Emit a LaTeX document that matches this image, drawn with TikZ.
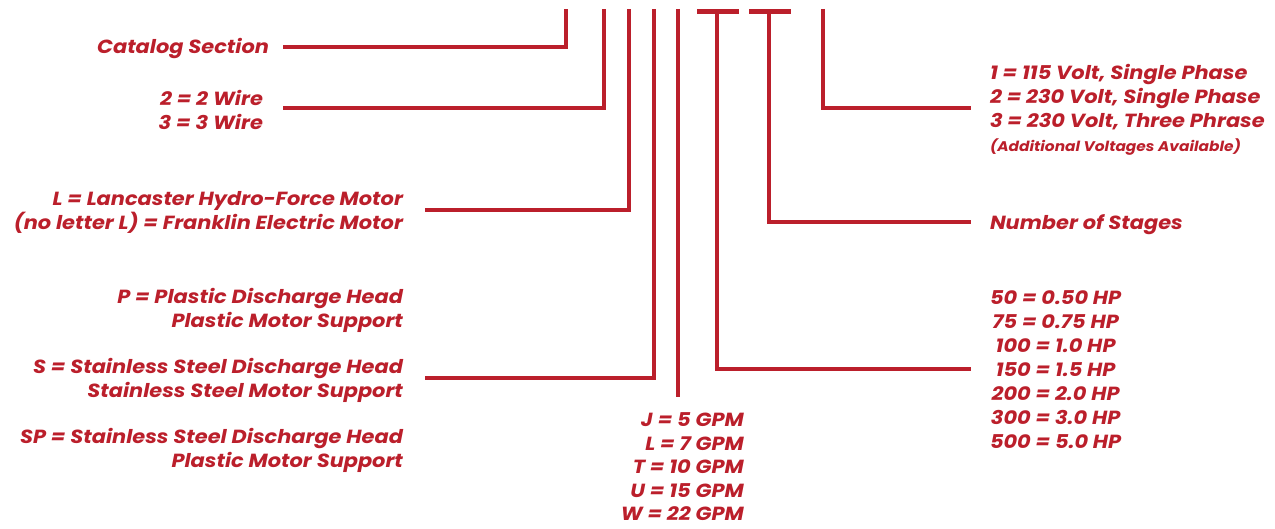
\documentclass[tikz,border=0pt]{standalone}
\usepackage{fontspec}
\setmainfont{Poppins}[FakeStretch=1.1]
\usetikzlibrary{positioning}
\definecolor{CodeRed}{RGB}{187,31,43}
\tikzset{
  code/.style={line width=4.6pt,draw=CodeRed},
  lbl/.style={text=CodeRed,inner sep=0pt,
    font=\fontsize{19}{24}\selectfont\bfseries\itshape},
  leftlbl/.style={lbl,align=right,anchor=east},
  rightlbl/.style={lbl,align=left,anchor=west,outer xsep=19pt}
}

\begin{document}
\begin{tikzpicture}[x=1pt,y=-1pt]
  \useasboundingbox (0,0) rectangle (1275,529);
  % tops of the code positions
  \coordinate (c1) at (566,9);
  \coordinate (c2) at (604,9);
  \coordinate (c3) at (629,9);
  \coordinate (c4) at (654,9);
  \coordinate (c5) at (678,9);
  \coordinate (t1l) at (697,11.3);
  \coordinate (t1) at (717,11.3);
  \coordinate (t1r) at (739,11.3);
  \coordinate (t2l) at (749,11.3);
  \coordinate (t2) at (769,11.3);
  \coordinate (t2r) at (791,11.3);
  \coordinate (c8) at (823,9);

  % left side labels
  \node[leftlbl,outer xsep=14pt] (cat) at (283,49) {Catalog Section};
  \node[leftlbl,outer xsep=20pt] (wire) at (283,110) {2 = 2 Wire\\3 = 3 Wire};
  \node[leftlbl,outer xsep=22pt] (motor) at (425,212)
    {L = Lancaster Hydro-Force Motor\\(no letter L) = Franklin Electric Motor};
  \node[leftlbl,outer xsep=22pt] (head) at (425,380)
    {P = Plastic Discharge Head\\Plastic Motor Support\\[22pt]
     S = Stainless Steel Discharge Head\\Stainless Steel Motor Support\\[22pt]
     SP = Stainless Steel Discharge Head\\Plastic Motor Support};
  \node[lbl,align=right,anchor=north east,outer ysep=16pt,
    font=\fontsize{19}{23.5}\selectfont\bfseries\itshape] (gpm) at (744,397)
    {J = 5 GPM\\L = 7 GPM\\T = 10 GPM\\U = 15 GPM\\W = 22 GPM};

  % right side labels
  \node[rightlbl] (volt) at (971,110)
    {1 = 115 Volt, Single Phase\\2 = 230 Volt, Single Phase\\3 = 230 Volt, Three Phrase\\
     {\fontsize{14}{24}\selectfont(Additional Voltages Available)}};
  \node[rightlbl] (stages) at (971,225) {Number of Stages};
  \node[rightlbl,align=center] (hp) at (971,370)
    {50 = 0.50 HP\\75 = 0.75 HP\\100 = 1.0 HP\\150 = 1.5 HP\\200 = 2.0 HP\\300 = 3.0 HP\\500 = 5.0 HP};

  % connectors
  \draw[code] ([yshift=2pt]cat.east) -| (c1);
  \draw[code] ([yshift=2pt]wire.east) -| (c2);
  \draw[code] ([yshift=2pt]motor.east) -| (c3);
  \draw[code] ([yshift=2pt]head.east) -| (c4);
  \draw[code] (c5) -- (c5 |- gpm.north);
  \draw[code] (t1l) -- (t1r);
  \draw[code] (t1) |- ([yshift=1pt]hp.west);
  \draw[code] (t2l) -- (t2r);
  \draw[code] (t2) |- ([yshift=3pt]stages.west);
  \draw[code] (c8) |- ([yshift=2pt]volt.west);
\end{tikzpicture}
\end{document}
